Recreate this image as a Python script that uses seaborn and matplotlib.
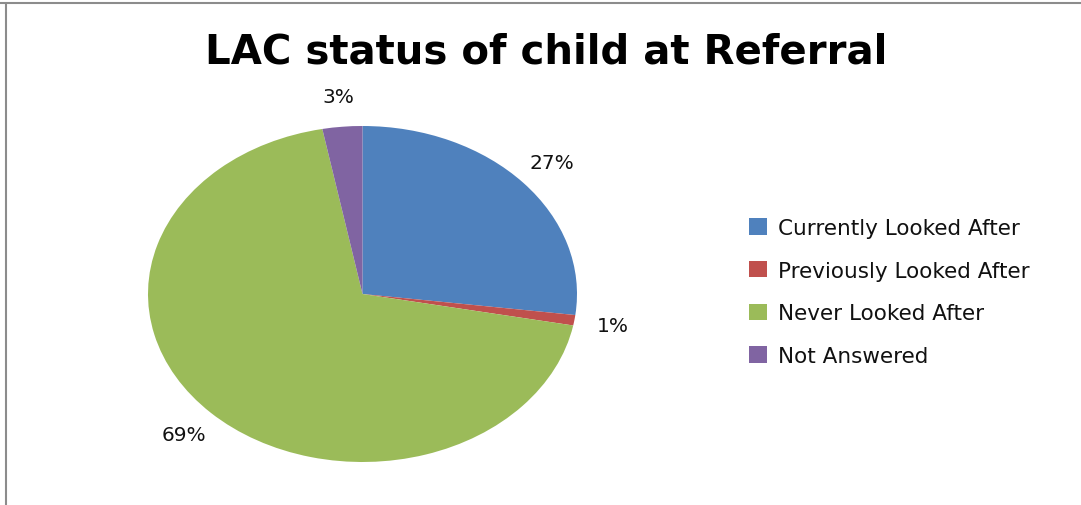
import matplotlib
matplotlib.use("Agg")
import matplotlib.pyplot as plt
import seaborn as sns
from matplotlib.patches import Patch
from matplotlib.lines import Line2D

categories = ["Currently Looked After", "Previously Looked After",
              "Never Looked After", "Not Answered"]
shares = [27, 1, 69, 3]
title = "LAC status of child at Referral"

sns.set_theme(style="white")
plt.rcParams["font.family"] = ["DejaVu Sans"]
colors = sns.color_palette(["#4F81BD", "#C0504D", "#9BBB59", "#8064A2"])

fig = plt.figure(figsize=(10.81, 5.06), dpi=100)

# frame lines along the top and left edge
fig.add_artist(Line2D([0.0055, 0.0055], [0, 0.992], color="#8c8c8c", lw=1.5))
fig.add_artist(Line2D([0, 1], [0.992, 0.992], color="#8c8c8c", lw=1.5))

# axes sized so the pie is drawn as a flattened ellipse
ax = fig.add_axes([148 / 1081, 43 / 506, 429 / 1081, 336 / 506])
wedges, texts, autotexts = ax.pie(
    shares, colors=colors, startangle=90, counterclock=False,
    autopct="%d%%", pctdistance=1.18, frame=False,
    wedgeprops=dict(linewidth=0),
    textprops=dict(fontsize=14.5, color="#111111"),
)
ax.set_aspect("auto")
ax.set_xlim(-1, 1)
ax.set_ylim(-1, 1)
ax.axis("off")

fig.text(546 / 1081, 1 - 53 / 506, title, ha="center", va="center",
         fontsize=29, fontweight="bold", color="black")

handles = [Patch(facecolor=c, edgecolor="none") for c in colors]
leg = fig.legend(handles, categories, loc="center left",
                 bbox_to_anchor=(730 / 1081, 1 - 293 / 506), frameon=False,
                 fontsize=15.5, handlelength=0.8, handleheight=0.8,
                 handletextpad=0.55, labelspacing=1.05)
for t in leg.get_texts():
    t.set_color("#111111")

fig.savefig("out.png", dpi=100)
